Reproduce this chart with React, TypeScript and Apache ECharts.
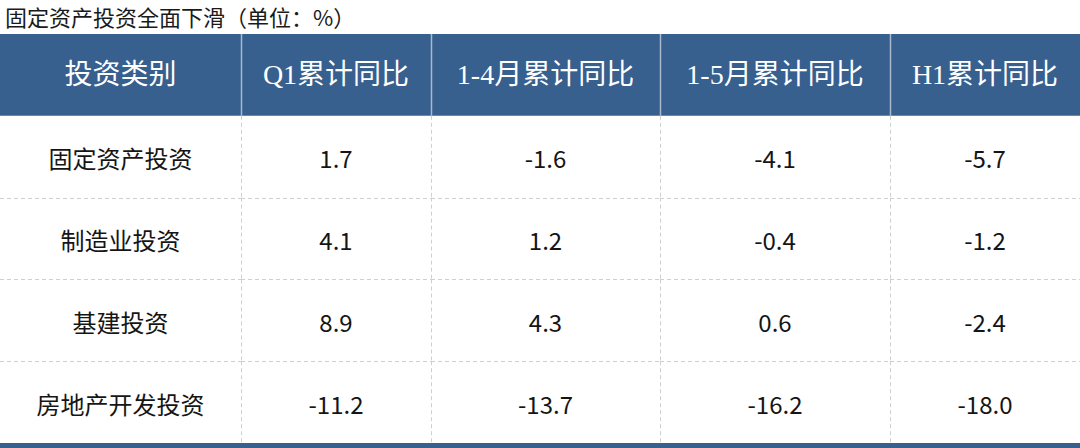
import React, { useEffect, useRef } from "react";
import * as echarts from "echarts";

const TITLE = "固定资产投资全面下滑（单位：%）";
const HEADER_FIRST = "投资类别";
const periods = ["Q1累计同比", "1-4月累计同比", "1-5月累计同比", "H1累计同比"];
const categories = ["固定资产投资", "制造业投资", "基建投资", "房地产开发投资"];
const q1Values = [1.7, 4.1, 8.9, -11.2];
const apr4Values = [-1.6, 1.2, 4.3, -13.7];
const may5Values = [-4.1, -0.4, 0.6, -16.2];
const h1Values = [-5.7, -1.2, -2.4, -18.0];

// layout (not data): column boundaries in pixels of the 1080-wide canvas
const COL_EDGES = [0, 241, 431, 660, 890, 1080];

const BLUE = "#37608f";
const HEADER_DIVIDER = "#a9b8cc";
const DASH = "#cfcfcf";
const SANS = "'Noto Sans CJK SC', 'Noto Sans', sans-serif";
const SERIF = "'Liberation Serif', 'DejaVu Serif', 'Noto Sans CJK SC', serif";

export default function App() {
  const ref = useRef<HTMLDivElement>(null);

  useEffect(() => {
    if (!ref.current) return;
    const chart = echarts.init(ref.current, null, { renderer: "svg" });

    const columns = [q1Values, apr4Values, may5Values, h1Values];
    const rowsLabels = [HEADER_FIRST, ...categories];
    const cells: { value: number[]; text: string }[] = [];
    // header row
    [HEADER_FIRST, ...periods].forEach((t, c) => cells.push({ value: [c, 0], text: t }));
    categories.forEach((cat, r) => {
      cells.push({ value: [0, r + 1], text: cat });
      columns.forEach((vals, c) => {
        cells.push({ value: [c + 1, r + 1], text: vals[r].toFixed(1) });
      });
    });
    const lastRow = categories.length;

    const renderItem = (params: any, api: any) => {
      const col = api.value(0);
      const row = api.value(1);
      const text = cells[params.dataIndex].text;
      const left = api.coord([COL_EDGES[col], row])[0];
      const right = api.coord([COL_EDGES[col + 1], row])[0];
      const cy = api.coord([COL_EDGES[col], row])[1];
      const h = api.size([0, 1])[1];
      const top = cy - h / 2;
      const bottom = cy + h / 2;
      const children: any[] = [];
      if (row === 0) {
        children.push({
          type: "rect",
          shape: { x: left, y: top, width: right - left, height: h },
          style: { fill: BLUE },
        });
        if (col > 0) {
          children.push({
            type: "line",
            shape: { x1: Math.round(left) + 0.5, y1: top, x2: Math.round(left) + 0.5, y2: bottom },
            style: { stroke: HEADER_DIVIDER, lineWidth: 1.5 },
          });
        }
        children.push({
          type: "text",
          style: {
            x: (left + right) / 2,
            y: cy,
            text,
            align: "center",
            verticalAlign: "middle",
            fill: "#ffffff",
            fontSize: 28,
            fontFamily: SERIF,
          },
        });
      } else {
        if (col > 0) {
          children.push({
            type: "line",
            shape: { x1: Math.round(left) + 0.5, y1: top, x2: Math.round(left) + 0.5, y2: bottom },
            style: { stroke: DASH, lineWidth: 1, lineDash: [4, 3] },
          });
        }
        if (row < lastRow) {
          children.push({
            type: "line",
            shape: { x1: left, y1: Math.round(bottom) + 0.5, x2: right, y2: Math.round(bottom) + 0.5 },
            style: { stroke: DASH, lineWidth: 1, lineDash: [4, 3] },
          });
        } else {
          children.push({
            type: "rect",
            shape: { x: left, y: bottom, width: right - left, height: 5 },
            style: { fill: BLUE },
          });
        }
        children.push({
          type: "text",
          style: {
            x: (left + right) / 2,
            y: cy + 1,
            text,
            align: "center",
            verticalAlign: "middle",
            fill: "#151515",
            fontSize: 24,
            fontFamily: SANS,
          },
        });
      }
      return { type: "group", children };
    };

    chart.setOption({
      animation: false,
      backgroundColor: "#ffffff",
      title: {
        text: TITLE,
        left: 5,
        top: 5,
        padding: 0,
        textStyle: { fontSize: 22, fontWeight: "normal", color: "#1a1a1a", fontFamily: SANS },
      },
      grid: { left: 0, right: 0, top: 34, bottom: 5 },
      xAxis: { type: "value", min: 0, max: 1080, show: false },
      yAxis: { type: "category", data: rowsLabels, inverse: true, show: false },
      series: [
        {
          type: "custom",
          renderItem,
          clip: false,
          silent: true,
          encode: { x: 0, y: 1 },
          data: cells.map((c) => c.value),
        },
      ],
    });

    return () => chart.dispose();
  }, []);

  return (
    <div
      ref={ref}
      style={{ position: "fixed", left: 0, top: 0, width: 1080, height: 448, background: "#fff" }}
    />
  );
}
